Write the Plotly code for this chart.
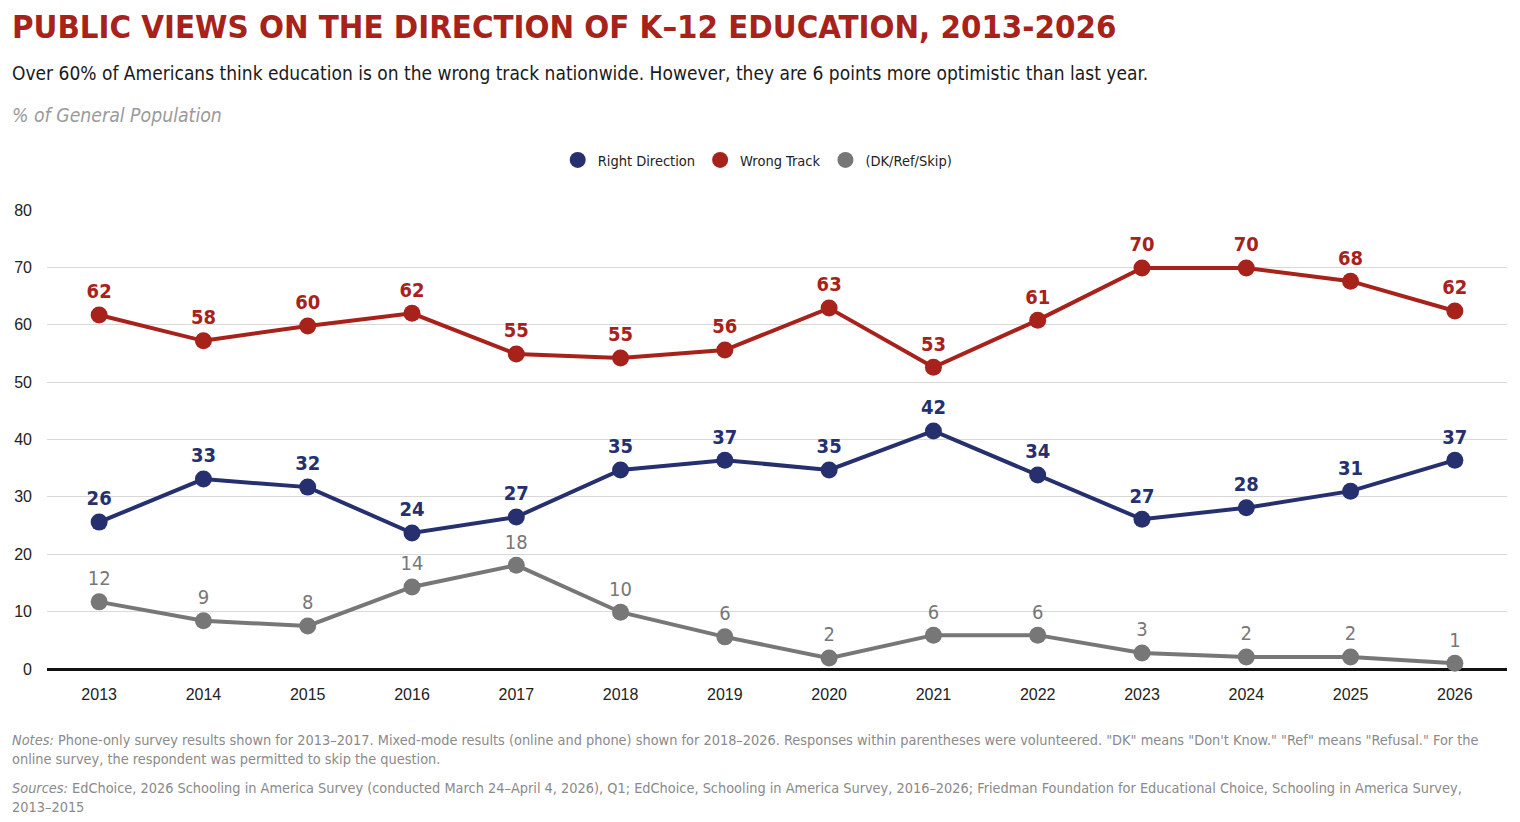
import plotly.graph_objects as go

years = ["2013", "2014", "2015", "2016", "2017", "2018", "2019", "2020", "2021", "2022", "2023", "2024", "2025", "2026"]
right_direction = [25.6, 33.1, 31.7, 23.7, 26.5, 34.7, 36.4, 34.7, 41.5, 33.8, 26.1, 28.1, 31.0, 36.4]
right_labels = ["26", "33", "32", "24", "27", "35", "37", "35", "42", "34", "27", "28", "31", "37"]
wrong_track = [61.7, 57.2, 59.8, 62.0, 54.9, 54.2, 55.6, 62.9, 52.6, 60.8, 69.9, 69.9, 67.6, 62.4]
wrong_labels = ["62", "58", "60", "62", "55", "55", "56", "63", "53", "61", "70", "70", "68", "62"]
dk_ref_skip = [11.7, 8.4, 7.5, 14.3, 18.1, 9.9, 5.6, 1.9, 5.9, 5.9, 2.8, 2.1, 2.1, 1.0]
dk_labels = ["12", "9", "8", "14", "18", "10", "6", "2", "6", "6", "3", "2", "2", "1"]
y_ticks = [0, 10, 20, 30, 40, 50, 60, 70, 80]

NAVY = "#26306f"
RED = "#a8221c"
GRAY = "#777777"
COND = "DejaVu Sans Condensed, Liberation Sans Narrow, sans-serif"
SANS = "Liberation Sans, Arial, sans-serif"

L, R, T, B = 39, 21, 202, 161
W, H = 1520, 822
PW = W - L - R
PH = H - T - B

fig = go.Figure()
series = [
    ("Right Direction", right_direction, right_labels, NAVY, "bold"),
    ("Wrong Track", wrong_track, wrong_labels, RED, "bold"),
    ("(DK/Ref/Skip)", dk_ref_skip, dk_labels, GRAY, "normal"),
]
for name, vals, labs, col, wt in series:
    fig.add_trace(go.Scatter(
        x=years, y=vals, name=name, mode="lines+markers+text",
        text=labs, textposition="top center",
        textfont=dict(family=COND, size=20, color=col, weight=wt),
        line=dict(color=col, width=4),
        marker=dict(color=col, size=17),
        cliponaxis=False, showlegend=False,
    ))
# legend entries (circle symbols only)
for name, vals, labs, col, wt in series:
    fig.add_trace(go.Scatter(
        x=[None], y=[None], name=name, mode="markers",
        marker=dict(color=col, size=17), showlegend=True,
    ))

fig.update_layout(
    width=W, height=H,
    paper_bgcolor="white", plot_bgcolor="white",
    margin=dict(l=L, r=R, t=T, b=B, autoexpand=False),
    legend=dict(orientation="h", x=(749.7 - L) / PW, xanchor="center", y=1 + (T - 152) / PH, yanchor="middle",
                font=dict(family=COND, size=14.5, color="#222222"),
                traceorder="normal"),
    xaxis=dict(type="category", range=[-0.5, 13.5], showgrid=False, showline=False, automargin=False,
               ticks="", tickfont=dict(family=SANS, size=16, color="#222222"), ticklabelstandoff=14),
    yaxis=dict(range=[0, 80], tickvals=y_ticks, showgrid=True, gridcolor="#d9d9d9", gridwidth=1,
               zeroline=True, zerolinecolor="#111111", zerolinewidth=2.5, showline=False, ticks="",
               automargin=False,
               tickfont=dict(family=SANS, size=16, color="#222222"), ticklabelstandoff=14),
)

x0 = (-L + 2) / PW
fig.add_annotation(text="<b>PUBLIC VIEWS ON THE DIRECTION OF K–12 EDUCATION, 2013-2026</b>",
                   xref="paper", yref="paper", x=x0, y=1 + (T - 19) / PH, xanchor="left", yanchor="middle",
                   showarrow=False, font=dict(family=COND, size=32.7, color=RED))
fig.add_annotation(text="Over 60% of Americans think education is on the wrong track nationwide. However, they are 6 points more optimistic than last year.",
                   xref="paper", yref="paper", x=x0, y=1 + (T - 65) / PH, xanchor="left", yanchor="middle",
                   showarrow=False, font=dict(family=COND, size=19, color="#1a1a1a"))
fig.add_annotation(text="<i>% of General Population</i>",
                   xref="paper", yref="paper", x=x0, y=1 + (T - 108) / PH, xanchor="left", yanchor="middle",
                   showarrow=False, font=dict(family=COND, size=19.3, color="#9a9a9a"))
fig.add_annotation(text="<i>Notes:</i> Phone-only survey results shown for 2013–2017. Mixed-mode results (online and phone) shown for 2018–2026. Responses within parentheses were volunteered. \"DK\" means \"Don't Know.\" \"Ref\" means \"Refusal.\" For the<br>online survey, the respondent was permitted to skip the question.",
                   xref="paper", yref="paper", x=x0, y=-(731 - 669 - 1) / PH, xanchor="left", yanchor="top",
                   align="left", showarrow=False, font=dict(family=COND, size=14.4, color="#8a8a8a"))
fig.add_annotation(text="<i>Sources:</i> EdChoice, 2026 Schooling in America Survey (conducted March 24–April 4, 2026), Q1; EdChoice, Schooling in America Survey, 2016–2026; Friedman Foundation for Educational Choice, Schooling in America Survey,<br>2013–2015",
                   xref="paper", yref="paper", x=x0, y=-(779 - 669 - 1) / PH, xanchor="left", yanchor="top",
                   align="left", showarrow=False, font=dict(family=COND, size=14.4, color="#8a8a8a"))

fig.write_html("out.html")
